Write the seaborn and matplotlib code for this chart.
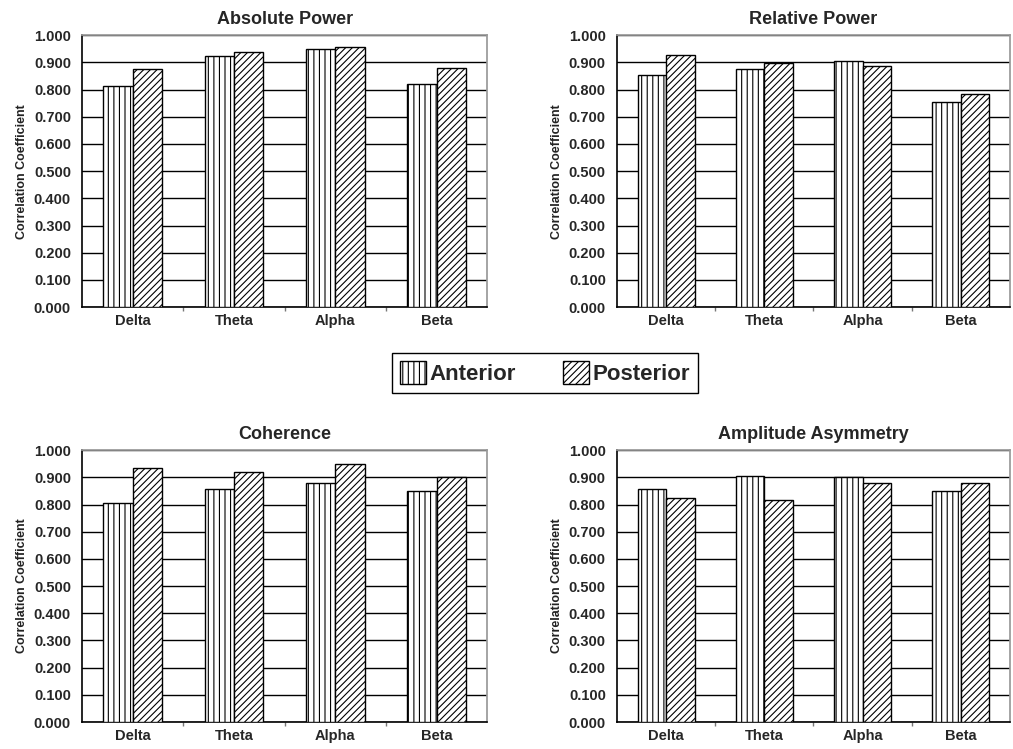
import numpy as np
import pandas as pd
import seaborn as sns
import matplotlib.pyplot as plt
from matplotlib.patches import Patch

bands = ['Delta', 'Theta', 'Alpha', 'Beta']
regions = ['Anterior', 'Posterior']

abs_ant = [0.815, 0.925, 0.950, 0.821]
abs_post = [0.877, 0.939, 0.958, 0.881]
rel_ant = [0.854, 0.877, 0.904, 0.755]
rel_post = [0.926, 0.898, 0.887, 0.782]
coh_ant = [0.806, 0.858, 0.879, 0.851]
coh_post = [0.935, 0.918, 0.949, 0.901]
asy_ant = [0.858, 0.905, 0.901, 0.851]
asy_post = [0.824, 0.818, 0.881, 0.879]

panels = [
    ('Absolute Power', abs_ant, abs_post),
    ('Relative Power', rel_ant, rel_post),
    ('Coherence', coh_ant, coh_post),
    ('Amplitude Asymmetry', asy_ant, asy_post),
]
hatches = ['|||', '/////']

sns.set_theme(style='white')
plt.rcParams['font.family'] = ['Liberation Sans', 'DejaVu Sans']
plt.rcParams['font.weight'] = 'bold'
plt.rcParams['hatch.linewidth'] = 0.8

fig = plt.figure(figsize=(10.13, 7.49), dpi=100)
boxes = [[0.081, 0.590, 0.400, 0.363], [0.609, 0.590, 0.388, 0.363],
         [0.081, 0.036, 0.400, 0.363], [0.609, 0.036, 0.388, 0.363]]

for (title, ant, post), box in zip(panels, boxes):
    ax = fig.add_axes(box)
    df = pd.DataFrame({'band': bands * 2,
                       'region': ['Anterior'] * 4 + ['Posterior'] * 4,
                       'r': ant + post})
    sns.barplot(data=df, x='band', y='r', hue='region', order=bands,
                hue_order=regions, palette=['white', 'white'],
                edgecolor='black', linewidth=1, width=0.58, gap=0,
                errorbar=None, legend=False, ax=ax, zorder=3)
    for cont, h in zip(ax.containers, hatches):
        for bar in cont:
            bar.set_hatch(h)

    ax.set_xlim(-0.5, 3.5)
    ax.set_ylim(0, 1)
    yt = np.arange(0, 1.01, 0.1)
    ax.set_yticks(yt)
    ax.set_yticklabels([f'{v:.3f}' for v in yt], fontsize=10.5, fontweight='bold')
    ax.tick_params(axis='y', length=0, pad=8)
    ax.tick_params(axis='x', length=0, pad=5, labelsize=10.5)
    ax.set_xticks(range(4))
    ax.set_xticklabels(bands, fontweight='bold')
    ax.set_xticks([0.5, 1.5, 2.5], minor=True)
    ax.tick_params(axis='x', which='minor', length=3, color='#777777',
                   direction='out', bottom=True)
    ax.yaxis.grid(True, color='black', linewidth=1)
    ax.set_axisbelow(True)
    for s in ['top', 'right']:
        ax.spines[s].set_color('#999999')
    for s in ['left', 'bottom']:
        ax.spines[s].set_color('black')
        ax.spines[s].set_linewidth(1.2)
    ax.set_xlabel('')
    ax.set_ylabel('Correlation Coefficient', fontsize=9, fontweight='bold',
                  color='#222222', labelpad=4)
    ax.set_title(title, fontsize=13, fontweight='bold', pad=8)

handles = [Patch(facecolor='white', edgecolor='black', hatch=h) for h in hatches]
leg = fig.legend(handles, regions, loc='center', bbox_to_anchor=(0.538, 0.502),
                 ncol=2, frameon=True, fancybox=False, edgecolor='black',
                 framealpha=1, fontsize=16, handlelength=1.2, handleheight=1.2,
                 handletextpad=0.15, columnspacing=2.1, borderpad=0.35)
for t in leg.get_texts():
    t.set_fontweight('bold')

fig.savefig('out.png', dpi=100)
